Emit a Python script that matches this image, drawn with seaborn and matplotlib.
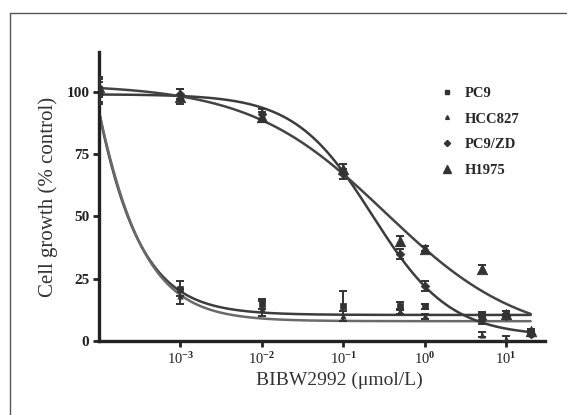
import numpy as np
import pandas as pd
import matplotlib
matplotlib.use("Agg")
import matplotlib.pyplot as plt
import seaborn as sns
from matplotlib.lines import Line2D

# Данные
cell_lines = ['PC9', 'HCC827', 'PC9/ZD', 'H1975']
conc = [1e-4, 1e-3, 1e-2, 1e-1, 0.5, 1, 5, 10, 20]

pc9_mean = [100, 21, 15, 14, 14, 14, 10.5, 11, 4]
pc9_err = [4, 3, 2, 6, 1.5, 1, 1, 1, 1]
hcc827_mean = [100, 18, 13, 10, 12, 10, 2.5, 1, 3]
hcc827_err = [5, 3, 3, 2, 1, 1, 1, 1, 1]
pc9zd_mean = [99, 99, 91, 67, 35, 22, 9, 10, 3]
pc9zd_err = [3, 2, 2, 2, 2, 2, 2, 1, 1]
h1975_mean = [102, 98, 90, 69, 40, 37, 29, 11, 4]
h1975_err = [4, 3, 2, 2, 2, 1, 1.5, 1, 1]

# Параметры сигмоидной аппроксимации (top, bottom, IC50, Hill)
fit_top = [527, 386, 99, 103]
fit_bottom = [10.5, 8.0, 2.0, 0.0]
fit_ic50 = [1.87e-5, 2.86e-5, 0.227, 0.33]
fit_hill = [1.0, 1.0, 0.91, 0.52]

y_ticks = [0, 25, 50, 75, 100]
x_ticks = [1e-3, 1e-2, 1e-1, 1, 10]
x_tick_labels = ['10$^{-3}$', '10$^{-2}$', '10$^{-1}$', '10$^{0}$', '10$^{1}$']

means = [pc9_mean, hcc827_mean, pc9zd_mean, h1975_mean]
errs = [pc9_err, hcc827_err, pc9zd_err, h1975_err]
markers = ['s', '^', 'D', '^']
msizes = [3.5, 3.0, 3.5, 6.0]
line_colors = ['#3c3c3c', '#6a6a6a', '#3c3c3c', '#444444']

sns.set_style("ticks")
plt.rcParams['font.family'] = ['Liberation Serif', 'DejaVu Serif']
plt.rcParams['mathtext.fontset'] = 'custom'
plt.rcParams['mathtext.rm'] = 'Liberation Serif:bold'
plt.rcParams['mathtext.default'] = 'rm'

fig = plt.figure(figsize=(5.67, 4.15), dpi=100)
ax = fig.add_axes([0.1746, 0.178, 0.7866, 0.697])

# Кривые аппроксимации
xs = np.logspace(-4, np.log10(20), 400)
rows = []
for i, name in enumerate(cell_lines):
    ys = fit_bottom[i] + (fit_top[i] - fit_bottom[i]) / (1 + (xs / fit_ic50[i]) ** fit_hill[i])
    rows.append(pd.DataFrame({'conc': xs, 'growth': ys, 'line': name}))
curves = pd.concat(rows)
sns.lineplot(data=curves, x='conc', y='growth', hue='line', palette=dict(zip(cell_lines, line_colors)),
             linewidth=1.8, legend=False, ax=ax)

# Точки с планками погрешностей
for i, name in enumerate(cell_lines):
    ax.errorbar(conc, means[i], yerr=errs[i], fmt='none', ecolor='#333333',
                elinewidth=1.4, capsize=3, capthick=1.4, zorder=3)
    pts = pd.DataFrame({'conc': conc, 'growth': means[i]})
    sns.scatterplot(data=pts, x='conc', y='growth', marker=markers[i], s=msizes[i] ** 2 * 1.6,
                    color='#333333', edgecolor='#333333', linewidth=0.5, zorder=4, ax=ax)

ax.set_xscale('log')
ax.set_xlim(1e-4, 30)
ax.set_ylim(0, 116)
ax.set_xticks(x_ticks)
ax.set_xticklabels(x_tick_labels, fontsize=10.5)
ax.minorticks_off()
ax.set_yticks(y_ticks)
ax.set_yticklabels([str(v) for v in y_ticks], fontsize=11, fontweight='bold')
ax.tick_params(axis='both', direction='out', length=4, width=2, color='#222222', pad=3,
               labelcolor='#222222')

for side in ['top', 'right']:
    ax.spines[side].set_visible(False)
for side in ['left', 'bottom']:
    ax.spines[side].set_linewidth(2.4)
    ax.spines[side].set_color('#222222')

ax.set_xlabel('BIBW2992 (μmol/L)', fontsize=14, color='#333333')
ax.xaxis.set_label_coords(0.54, -0.105)
ax.set_ylabel('Cell growth (% control)', fontsize=15, color='#333333', labelpad=6)

handles = [Line2D([], [], linestyle='none', marker=markers[i], markersize=msizes[i] * 0.9,
                  color='#333333') for i in range(4)]
ax.legend(handles, cell_lines, loc='upper left', bbox_to_anchor=(0.735, 0.925), frameon=False,
          prop={'family': 'Liberation Serif', 'weight': 'bold', 'size': 10.5},
          handlelength=1.0, handletextpad=0.7, labelspacing=0.85)

# Рамка отсканированного рисунка
fig.add_artist(Line2D([10 / 567, 1.0], [1 - 13 / 415, 1 - 13 / 415], color='#555555', linewidth=1))
fig.add_artist(Line2D([10 / 567, 10 / 567], [1 - 13 / 415, 0.0], color='#555555', linewidth=1))

fig.savefig('out.png', dpi=100)
